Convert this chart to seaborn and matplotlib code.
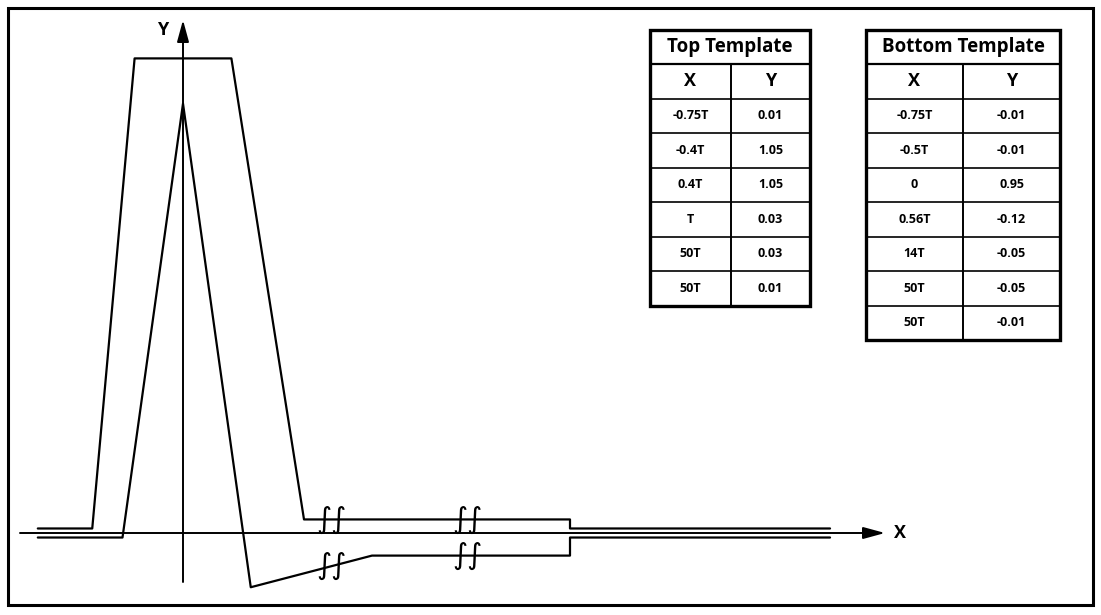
import numpy as np
import pandas as pd
import matplotlib
matplotlib.use("Agg")
import matplotlib.pyplot as plt
from matplotlib.patches import Rectangle
import seaborn as sns

# template points, x in units of T
top_x = [-0.75, -0.4, 0.4, 1.0, 50.0, 50.0]
top_y = [0.01, 1.05, 1.05, 0.03, 0.03, 0.01]
bottom_x = [-0.75, -0.5, 0.0, 0.56, 14.0, 50.0, 50.0]
bottom_y = [-0.01, -0.01, 0.95, -0.12, -0.05, -0.05, -0.01]
# how far the drawn lines run past the table points
left_end = -1.2
right_end = 100.0

top_labels_x = ["-0.75T", "-0.4T", "0.4T", "T", "50T", "50T"]
top_labels_y = ["0.01", "1.05", "1.05", "0.03", "0.03", "0.01"]
bot_labels_x = ["-0.75T", "-0.5T", "0", "0.56T", "14T", "50T", "50T"]
bot_labels_y = ["-0.01", "-0.01", "0.95", "-0.12", "-0.05", "-0.05", "-0.01"]

# broken x axis: piecewise linear mapping T -> pixels
knots_t = np.array([-183 / 121, 1.0, 14.0, 50.0, 152.1])
knots_px = np.array([0.0, 304.0, 372.0, 570.0, 1101.0])


def fwd(x):
    return np.interp(x, knots_t, knots_px)


def inv(p):
    return np.interp(p, knots_px, knots_t)


W, H = 1101, 615
sns.set_theme(style="white")
plt.rcParams['font.family'] = ['Open Sans', 'DejaVu Sans']
plt.rcParams['text.color'] = 'black'

fig = plt.figure(figsize=(W / 100, H / 100), dpi=100)
ax = fig.add_axes([0, 0, 1, 1])
ax.set_xscale('function', functions=(fwd, inv))
ax.set_xlim(inv(0), inv(W))
y0, ppu = 533.0, 452.0
ax.set_ylim((y0 - H) / ppu, y0 / ppu)
ax.axis('off')

top_df = pd.DataFrame({'x': [left_end] + top_x + [right_end],
                       'y': [top_y[0]] + top_y + [top_y[-1]]})
bot_df = pd.DataFrame({'x': [left_end] + bottom_x + [right_end],
                       'y': [bottom_y[0]] + bottom_y + [bottom_y[-1]]})
sns.lineplot(data=top_df, x='x', y='y', estimator=None, sort=False,
             color='black', lw=1.6, ax=ax)
sns.lineplot(data=bot_df, x='x', y='y', estimator=None, sort=False,
             color='black', lw=1.6, ax=ax)

# axes with arrows
ax.annotate('', xy=(inv(885), 0), xytext=(inv(20), 0),
            arrowprops=dict(arrowstyle='-|>,head_length=1.1,head_width=0.3',
                            color='black', lw=1.4, shrinkA=0, shrinkB=0))
ax.annotate('', xy=(0, (y0 - 20) / ppu), xytext=(0, (y0 - 582) / ppu),
            arrowprops=dict(arrowstyle='-|>,head_length=1.1,head_width=0.3',
                            color='black', lw=1.4, shrinkA=0, shrinkB=0))
ax.text(inv(900), 0, 'X', fontsize=13, fontweight='bold', ha='center', va='center')
ax.text(inv(163), (y0 - 30) / ppu, 'Y', fontsize=13, fontweight='bold',
        ha='center', va='center')

# break marks on the x scale
for bx in [inv(331), inv(467)]:
    ax.text(bx, top_y[3], '∫∫', family='DejaVu Sans', fontsize=21,
            ha='center', va='center')
    by = np.interp(fwd(bx), fwd(np.array(bottom_x)), bottom_y)
    ax.text(bx, by, '∫∫', family='DejaVu Sans', fontsize=21,
            ha='center', va='center')

# tables drawn in pixel space
tab = fig.add_axes([0, 0, 1, 1], facecolor='none')
tab.set_xlim(0, W)
tab.set_ylim(H, 0)
tab.axis('off')


def draw_table(x0, x1, xm, title, xs, ys, top=30, title_h=34, row_h=34.5):
    n = len(xs) + 1
    bottom = top + title_h + n * row_h
    tab.add_patch(Rectangle((x0, top), x1 - x0, bottom - top, fill=False,
                            ec='black', lw=2.4))
    tab.hlines([top + title_h], x0, x1, color='black', lw=1.6)
    for i in range(1, n):
        tab.hlines([top + title_h + i * row_h], x0, x1, color='black', lw=1.2)
    tab.vlines([xm], top + title_h, bottom, color='black', lw=1.4)
    tab.text((x0 + x1) / 2, top + title_h / 2, title, fontsize=13.5,
             fontweight='bold', ha='center', va='center')
    yc = top + title_h + row_h / 2
    tab.text((x0 + xm) / 2, yc, 'X', fontsize=13, fontweight='bold',
             ha='center', va='center')
    tab.text((xm + x1) / 2, yc, 'Y', fontsize=13, fontweight='bold',
             ha='center', va='center')
    for i, (a, b) in enumerate(zip(xs, ys)):
        yc = top + title_h + (i + 1.5) * row_h
        tab.text((x0 + xm) / 2, yc, a, fontsize=9, fontweight='bold',
                 ha='center', va='center')
        tab.text((xm + x1) / 2, yc, b, fontsize=9, fontweight='bold',
                 ha='center', va='center')


draw_table(650, 810, 731, 'Top Template', top_labels_x, top_labels_y)
draw_table(866, 1060, 963, 'Bottom Template', bot_labels_x, bot_labels_y)

# outer frame
tab.add_patch(Rectangle((8, 8), 1085, 597, fill=False, ec='black', lw=2.2))

fig.savefig('out.png', dpi=100, facecolor='white')
